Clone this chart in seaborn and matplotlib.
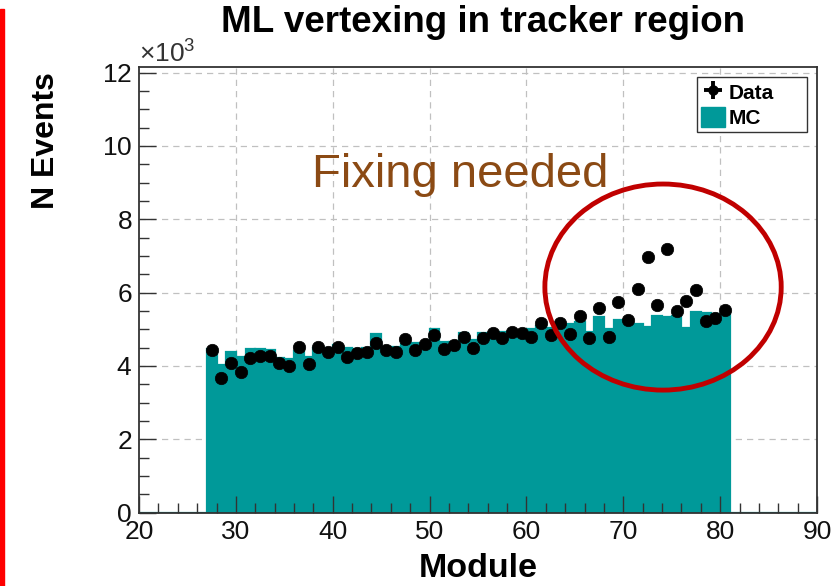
import numpy as np
import pandas as pd
import matplotlib
matplotlib.use("Agg")
import matplotlib.pyplot as plt
import seaborn as sns
from matplotlib.lines import Line2D
from matplotlib.patches import Patch, Ellipse, Rectangle
from matplotlib.ticker import MultipleLocator

# Module numbers with entries (1-wide bins, 27..80)
modules = list(range(27, 81))

# Observed event counts per module
data_counts = [
    4430, 3680, 4090, 3830, 4210, 4270, 4270, 4090, 4000, 4510,
    4050, 4520, 4390, 4520, 4230, 4340, 4390, 4620, 4430, 4390,
    4730, 4430, 4590, 4840, 4450, 4570, 4800, 4480, 4750, 4890,
    4770, 4920, 4890, 4800, 5180, 4840, 5180, 4870, 5370, 4750,
    5570, 4800, 5730, 5250, 6090, 6980, 5650, 7180, 5510, 5760,
    6070, 5220, 5300, 5520,
]

# Simulated event counts per module
mc_counts = [
    4450, 4020, 4370, 4230, 4450, 4450, 4420, 4220, 4180, 4400,
    4250, 4480, 4480, 4570, 4480, 4460, 4480, 4870, 4520, 4520,
    4600, 4620, 4620, 5000, 4660, 4660, 4890, 4700, 4900, 4900,
    4920, 4920, 4920, 5000, 5090, 5030, 5070, 5140, 5210, 4930,
    5340, 5000, 5240, 5160, 5140, 5050, 5360, 5340, 5370, 5030,
    5470, 5440, 5420, 5420,
]

x_min, x_max = 20, 90
y_max = 12160
teal = "#009999"

# Full histogram range, empty outside the populated modules
all_modules = np.arange(x_min, x_max)
mc_full = np.zeros(len(all_modules))
for m, c in zip(modules, mc_counts):
    mc_full[m - x_min] = c

mc_df = pd.DataFrame({"module": all_modules + 0.5, "events": mc_full})
data_df = pd.DataFrame({"module": np.array(modules) + 0.5, "events": data_counts})

sns.set_style("white")
plt.rcParams["font.family"] = ["Liberation Sans", "DejaVu Sans"]
plt.rcParams["mathtext.fontset"] = "custom"
plt.rcParams["mathtext.rm"] = "Liberation Sans"
plt.rcParams["text.color"] = "black"

fig = plt.figure(figsize=(8.38, 5.86), dpi=100)
ax = fig.add_axes([0.1659, 0.1253, 0.975 - 0.1659, 0.8862 - 0.1253])

# Dashed grid kept underneath the histogram, ticks drawn on top of it
grid_style = dict(linestyle=(0, (5, 4)), color="#c0c0c0", linewidth=0.9, zorder=0.6)
ax.vlines(np.arange(30, 90, 10), 0, y_max, **grid_style)
ax.hlines(np.arange(2000, 12001, 2000), x_min, x_max, **grid_style)

sns.histplot(
    data=mc_df, x="module", weights="events",
    bins=x_max - x_min, binrange=(x_min, x_max),
    element="bars", fill=True, color=teal, edgecolor=teal,
    alpha=1.0, linewidth=1.6, ax=ax, zorder=1,
)
sns.scatterplot(
    data=data_df, x="module", y="events",
    color="black", s=80, edgecolor="black", linewidth=0.5,
    ax=ax, zorder=3,
)

ax.set_xlim(x_min, x_max)
ax.set_ylim(0, y_max)
ax.xaxis.set_major_locator(MultipleLocator(10))
ax.xaxis.set_minor_locator(MultipleLocator(2))
ax.yaxis.set_major_locator(MultipleLocator(2000))
ax.yaxis.set_minor_locator(MultipleLocator(500))
ax.ticklabel_format(axis="y", style="sci", scilimits=(3, 3), useMathText=True)
ax.yaxis.get_offset_text().set_fontsize(19)
ax.yaxis.get_offset_text().set_color("#222222")

ax.set_axisbelow(False)
ax.grid(False)
ax.tick_params(which="both", bottom=True, left=True, top=False, right=False)
ax.tick_params(which="major", direction="in", length=12, width=1.0,
               labelsize=19, colors="#333333", labelcolor="#111111", pad=5)
ax.tick_params(which="minor", direction="in", length=7, width=1.0, colors="#333333")
for sp in ax.spines.values():
    sp.set_color("#333333")
    sp.set_linewidth(1.3)
    sp.set_visible(True)

ax.set_xlabel("")
ax.set_ylabel("")
fig.text(0.571, 0.030, "Module", fontsize=24.5, fontweight="bold", ha="center", va="center")
fig.text(0.055, 0.76, "N Events", fontsize=23, fontweight="bold", rotation=90,
         ha="center", va="center")
fig.text(0.576, 0.962, "ML vertexing in tracker region", fontsize=26.5,
         fontweight="bold", ha="center", va="center")

ax.text(0.4735, 0.758, "Fixing needed", transform=ax.transAxes, fontsize=34,
        color="#8B4A14", ha="center", va="center")

ax.add_patch(Ellipse((74.1, 6150), width=24.4, height=5620, fill=False,
                     edgecolor="#C00000", linewidth=3.5, zorder=5, clip_on=False))

data_handle = (
    Line2D([], [], marker="o", linestyle="none", color="black", markersize=6.5),
    Line2D([], [], marker="+", linestyle="none", color="black", markersize=13,
           markeredgewidth=2.8),
)
mc_handle = Patch(facecolor=teal, edgecolor=teal)
leg = ax.legend(
    [data_handle, mc_handle], ["Data", "MC"],
    loc="upper left", bbox_to_anchor=(0.823, 0.851, 0.162, 0.126), mode="expand",
    prop={"weight": "bold", "size": 15}, frameon=True, fancybox=False,
    edgecolor="#333333", framealpha=1, handlelength=1.15, handleheight=1.15,
    handletextpad=0.15, borderpad=0.2, labelspacing=0.2, borderaxespad=0.0,
)
leg.get_frame().set_linewidth(1.0)
leg.set_zorder(6)

# Red margin bar
fig.add_artist(Rectangle((0, 0), 4 / 838, 1 - 9 / 586, transform=fig.transFigure,
                         color="#FF0000", zorder=10))

fig.savefig("out.png", dpi=100)
